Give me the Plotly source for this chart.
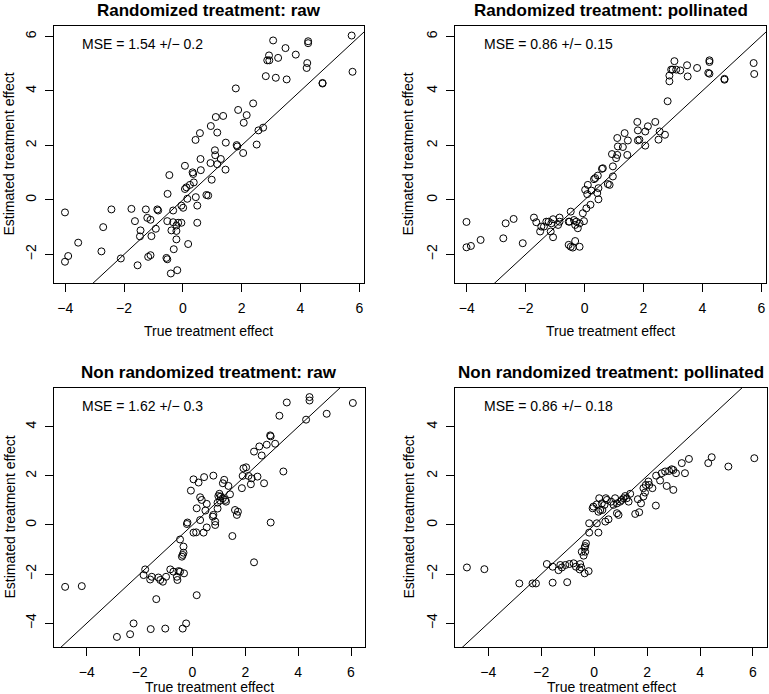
import plotly.graph_objects as go

# ---------------- data (true effect, estimated effect) ----------------
rand_raw_true = [5.74, 5.77, 3.07, 3.49, 4.26, 4.26, 3.84, 2.93, 2.87, 2.94,
                 3.24, 4.23, 4.21, 2.82, 3.16, 3.53, 4.75, 4.75, 1.80, 2.39,
                 1.88, 2.17, 2.07, 1.12, 1.37, 0.95, 1.17, 0.58, 0.43, 2.73,
                 2.57, 2.51, 1.83, 1.85, 2.05, 1.46, 1.09, 1.10, 1.29, 0.60,
                 0.94, 1.17, 0.07, 1.45, 0.61, 0.33, 0.35, -0.46, 0.98, 0.37,
                 0.24, 0.12, 0.07, -0.52, 0.80, 0.86, 0.44, 0.15, -0.05, 0.01,
                 0.49, -0.33, -0.87, -0.84, -1.26, -1.75, -2.43, -4.01, -1.21, -1.10,
                 -1.63, -0.53, -0.33, -0.16, -0.05, 0.49, -0.22, -0.39, -0.22, -0.92,
                 -1.44, -1.46, -1.07, -0.22, -2.71, -3.56, 0.18, -0.31, -2.77, -3.90,
                 -4.01, -2.11, -1.18, -1.10, -0.56, -0.53, -1.54, -0.19, -0.41]
rand_raw_est = [6.03, 4.70, 5.85, 5.57, 5.82, 5.75, 5.33, 5.30, 5.12, 5.12,
                5.21, 5.02, 4.84, 4.54, 4.48, 4.42, 4.29, 4.27, 4.09, 3.54,
                3.30, 3.11, 2.83, 3.04, 3.08, 2.71, 2.47, 2.45, 2.20, 2.65,
                2.55, 2.03, 2.01, 1.96, 1.72, 2.10, 1.82, 1.64, 1.50, 1.50,
                1.35, 1.31, 1.25, 1.11, 1.09, 1.01, 0.95, 0.91, 0.74, 0.64,
                0.55, 0.46, 0.40, 0.22, 0.18, 0.16, 0.10, 0.04, -0.21, -0.29,
                -0.21, -0.39, -0.35, -0.39, -0.35, -0.33, -0.35, -0.46, -0.66, -0.73,
                -0.78, -0.78, -0.82, -0.84, -0.84, -0.84, -0.94, -1.12, -1.14, -1.06,
                -1.12, -1.34, -1.33, -1.45, -1.00, -1.57, -1.62, -1.81, -1.89, -2.06,
                -2.27, -2.15, -2.09, -2.03, -2.13, -2.18, -2.40, -2.58, -2.70]

rand_pol_true = [5.74, 5.76, 3.05, 2.94, 2.99, 3.11, 3.25, 2.88, 3.48, 3.82,
                 3.50, 4.24, 4.24, 4.20, 4.24, 4.75, 4.75, 2.88, 2.82, 1.79,
                 2.15, 2.40, 2.06, 1.81, 2.55, 2.73, 2.51, 1.81, 1.86, 2.06,
                 1.36, 1.11, 1.47, 1.13, 1.30, 0.93, 1.11, 1.07, 1.45, 0.96,
                 0.62, 0.59, 0.45, 0.32, 0.36, 0.96, 0.79, 0.85, 0.11, 0.47,
                 0.02, 0.23, 0.09, 0.43, 0.47, 0.20, 0.06, -0.06, -0.47, -0.02,
                 -0.17, -0.28, -0.51, -0.54, -0.36, -0.32, -0.23, -0.85, -1.07, -1.22,
                 -0.85, -1.13, -0.90, -1.38, -1.30, -1.47, -1.72, -1.64, -1.51, -1.15,
                 -1.07, -4.01, -2.68, -2.41, -3.53, -2.76, -2.10, -4.01, -3.86, -0.54,
                 -0.47, -0.40, -0.32, -0.17]
rand_pol_est = [5.02, 4.62, 5.09, 4.78, 4.78, 4.78, 4.75, 4.56, 4.94, 4.84,
                4.53, 5.12, 5.06, 4.66, 4.63, 4.41, 4.44, 4.35, 3.62, 2.86,
                2.70, 2.86, 2.51, 2.55, 2.51, 2.39, 2.21, 2.18, 2.21, 1.99,
                2.45, 2.27, 2.18, 1.96, 1.94, 1.68, 1.65, 1.53, 1.65, 1.23,
                1.16, 1.14, 0.89, 0.76, 0.80, 0.86, 0.58, 0.55, 0.55, 0.43,
                0.37, 0.34, 0.21, 0.25, 0.02, -0.18, -0.31, -0.49, -0.43, -0.78,
                -0.86, -0.80, -0.80, -0.80, -0.74, -0.92, -1.04, -0.65, -0.71, -0.80,
                -0.80, -0.86, -0.92, -0.98, -0.80, -0.98, -0.65, -0.82, -1.16, -1.16,
                -1.37, -0.81, -0.86, -0.70, -1.47, -1.41, -1.59, -1.74, -1.69, -1.65,
                -1.72, -1.75, -1.51, -1.72]

nonrand_raw_true = [4.43, 4.43, 3.57, 6.07, 5.08, 3.29, 4.30, 2.94, 2.96, 2.81,
                    3.13, 2.53, 2.33, 2.62, 3.44, 1.93, 2.03, 1.90, 2.12, 2.24,
                    2.46, 2.71, 2.21, 1.87, 0.04, 0.23, 0.44, 0.79, 1.20, 1.15,
                    1.36, -0.06, 1.02, 0.98, 1.07, 1.15, 1.24, 1.42, 1.05, 1.27,
                    0.95, 0.29, 0.35, 0.54, 0.16, 0.95, 0.49, 1.61, 1.72, 1.68,
                    0.79, 0.77, 0.29, 0.86, 0.86, -0.19, -0.21, 0.54, 0.14, 0.04,
                    0.42, 1.51, -0.47, -0.34, -0.34, -0.37, -0.40, 2.33, 2.96, -1.79,
                    -1.85, -1.60, -1.54, -1.29, -1.22, -1.12, -1.00, -0.84, -0.72, -0.53,
                    -0.59, -0.57, -0.32, -0.47, -4.82, -4.19, -1.37, 0.16, -2.23, -2.36,
                    -2.86, -1.58, -1.03, -0.37, -0.24]
nonrand_raw_est = [5.21, 5.07, 4.99, 4.97, 4.53, 4.45, 4.29, 3.65, 3.61, 3.27,
                   3.31, 3.20, 2.99, 2.83, 2.18, 2.31, 2.35, 2.00, 2.00, 1.90,
                   1.97, 1.70, 1.66, 1.50, 1.86, 1.73, 1.95, 2.01, 1.84, 1.70,
                   1.59, 1.40, 1.27, 1.18, 1.16, 1.09, 1.02, 1.25, 0.99, 0.95,
                   0.91, 1.13, 1.02, 0.86, 0.68, 0.67, 0.59, 0.61, 0.54, 0.41,
                   0.41, 0.34, 0.20, 0.14, 0.00, 0.10, 0.04, -0.10, -0.30, -0.31,
                   -0.31, -0.45, -0.59, -0.88, -1.13, -1.22, -1.29, -1.52, 0.10, -1.81,
                   -2.04, -2.22, -2.11, -2.14, -2.24, -2.31, -2.11, -1.81, -1.90, -1.88,
                   -2.11, -2.24, -1.97, -1.90, -2.52, -2.49, -3.02, -2.86, -4.01, -4.45,
                   -4.56, -4.24, -4.22, -4.22, -4.01]

nonrand_pol_true = [6.05, 4.44, 4.31, 5.07, 3.58, 3.31, 3.43, 3.09, 2.93, 2.99,
                    2.83, 2.68, 2.55, 2.34, 2.49, 2.05, 1.95, 2.08, 1.86, 2.20,
                    2.74, 2.99, 1.92, 1.86, 1.65, 2.33, 1.77, 1.55, 1.70, 1.36,
                    1.17, 1.23, 1.11, 1.04, 0.98, 1.30, 0.79, 0.86, 0.64, 0.73,
                    0.48, 0.39, 0.19, 0.44, 0.29, 0.10, -0.03, -0.06, 0.23, 0.31,
                    0.16, 0.54, 0.42, 0.86, 0.92, 0.10, -0.19, 0.16, -0.19, -0.31,
                    -0.34, -0.36, -0.34, -0.47, -0.40, -1.79, -1.57, -1.35, -1.28, -1.22,
                    -1.09, -0.94, -0.78, -0.69, -0.53, -0.49, -0.55, -0.36, -0.21, -4.81,
                    -4.15, -2.83, -2.33, -2.20, -1.57, -1.02]
nonrand_pol_est = [2.72, 2.76, 2.52, 2.38, 2.69, 2.52, 2.11, 2.11, 2.27, 2.24,
                   2.20, 2.18, 2.11, 2.01, 1.81, 1.77, 1.63, 1.63, 1.50, 1.50,
                   1.59, 1.43, 1.32, 1.16, 1.05, 0.79, 0.88, 0.45, 0.52, 1.27,
                   1.18, 1.09, 1.09, 1.02, 0.95, 0.95, 1.09, 0.88, 0.95, 0.82,
                   1.02, 0.82, 1.09, 1.09, 0.88, 0.84, 0.75, 0.68, 0.61, 0.61,
                   0.54, 0.23, 0.14, 0.48, 0.41, 0.07, 0.07, -0.31, -0.31, -0.75,
                   -0.86, -0.93, -1.09, -1.09, -1.25, -1.59, -1.70, -1.84, -1.63, -1.73,
                   -1.63, -1.59, -1.56, -1.70, -1.59, -1.73, -1.81, -1.97, -1.88, -1.73,
                   -1.80, -2.38, -2.38, -2.38, -2.35, -2.33]

panel_titles = ["Randomized treatment: raw", "Randomized treatment: pollinated",
                "Non randomized treatment: raw", "Non randomized treatment: pollinated"]
mse_labels = ["MSE = 1.54 +/\u2212 0.2", "MSE = 0.86 +/\u2212 0.15",
              "MSE = 1.62 +/\u2212 0.3", "MSE = 0.86 +/\u2212 0.18"]
x_ticks = [-4, -2, 0, 2, 4, 6]
y_ticks_top = [-2, 0, 2, 4, 6]
y_ticks_bottom = [-4, -2, 0, 2, 4]
x_title = "True treatment effect"
y_title = "Estimated treatment effect"

# ---------------- layout geometry ----------------
W, H = 769, 694
FONT = "Liberation Sans, Arial, Helvetica, sans-serif"

def px_x(p):
    return p / W

def px_y(p):
    return 1 - p / H

panels = [
    dict(x=rand_raw_true, y=rand_raw_est, box=(53.5, 364, 26, 283),
         xr=[-4.40, 6.16], yr=[-3.05, 6.38], yt=y_ticks_top),
    dict(x=rand_pol_true, y=rand_pol_est, box=(455, 766, 26, 283),
         xr=[-4.40, 6.16], yr=[-3.05, 6.38], yt=y_ticks_top),
    dict(x=nonrand_raw_true, y=nonrand_raw_est, box=(53.5, 365, 388, 647),
         xr=[-5.26, 6.53], yr=[-4.97, 5.58], yt=y_ticks_bottom),
    dict(x=nonrand_pol_true, y=nonrand_pol_est, box=(455, 767, 388, 647),
         xr=[-5.26, 6.53], yr=[-4.97, 5.58], yt=y_ticks_bottom),
]

fig = go.Figure()
annotations = []
layout_axes = {}

for i, p in enumerate(panels):
    sfx = "" if i == 0 else str(i + 1)
    xa, ya = "x" + sfx, "y" + sfx
    x0, x1, y0, y1 = p["box"]
    fig.add_trace(go.Scatter(
        x=p["x"], y=p["y"], mode="markers", xaxis=xa, yaxis=ya,
        marker=dict(symbol="circle-open", size=7, color="black",
                    line=dict(width=1, color="black")),
        hoverinfo="x+y", showlegend=False))
    fig.add_trace(go.Scatter(
        x=[-10, 10], y=[-10, 10], mode="lines", xaxis=xa, yaxis=ya,
        line=dict(color="black", width=1), hoverinfo="skip", showlegend=False))

    common = dict(showline=True, mirror=True, linecolor="black", linewidth=1,
                  ticks="outside", ticklen=8, tickwidth=1, tickcolor="black",
                  showgrid=False, zeroline=False,
                  tickfont=dict(family=FONT, size=14, color="black"))
    layout_axes["xaxis" + sfx] = dict(
        domain=[px_x(x0), px_x(x1)], range=p["xr"], anchor=ya,
        tickvals=x_ticks, ticklabelstandoff=4, **common)
    layout_axes["yaxis" + sfx] = dict(
        domain=[px_y(y1), px_y(y0)], range=p["yr"], anchor=xa,
        tickvals=p["yt"], tickangle=-90, ticklabelstandoff=3, **common)

    cx = (x0 + x1) / 2
    # panel title
    annotations.append(dict(
        text="<b>%s</b>" % panel_titles[i], x=px_x(cx), y=px_y(y0 - 16),
        xref="paper", yref="paper", xanchor="center", yanchor="middle",
        showarrow=False, font=dict(family=FONT, size=17, color="black")))
    # MSE label
    annotations.append(dict(
        text=mse_labels[i], x=px_x(x0 + 26.5), y=px_y(y0 + 18),
        xref="paper", yref="paper", xanchor="left", yanchor="middle",
        showarrow=False, font=dict(family=FONT, size=14, color="black")))
    # x axis title
    xt_y = y1 + (48 if i < 2 else 40)
    annotations.append(dict(
        text=x_title, x=px_x(cx), y=px_y(xt_y),
        xref="paper", yref="paper", xanchor="center", yanchor="middle",
        showarrow=False, font=dict(family=FONT, size=14, color="black")))
    # y axis title
    yt_x = 9 if i % 2 == 0 else 408
    annotations.append(dict(
        text=y_title, x=px_x(yt_x), y=px_y((y0 + y1) / 2), textangle=-90,
        xref="paper", yref="paper", xanchor="center", yanchor="middle",
        showarrow=False, font=dict(family=FONT, size=14, color="black")))

fig.update_layout(
    width=W, height=H, margin=dict(l=0, r=0, t=0, b=0),
    paper_bgcolor="white", plot_bgcolor="white",
    showlegend=False, annotations=annotations,
    font=dict(family=FONT, size=14, color="black"),
    **layout_axes)

fig.write_html("out.html",
               config={"displayModeBar": False},
               post_script="document.body.style.margin='0px';"
                           "document.body.style.overflow='hidden';")
